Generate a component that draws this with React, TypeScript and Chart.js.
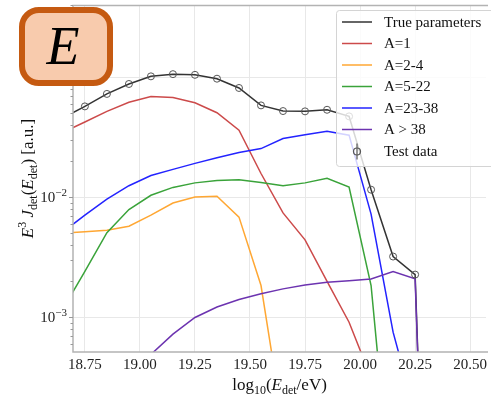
import React, { useEffect, useRef } from 'react';
import { Chart, registerables } from 'chart.js';

Chart.register(...registerables);

// ---- data ----
const energies = [18.65, 18.75, 18.85, 18.95, 19.05, 19.15, 19.25, 19.35, 19.45, 19.55, 19.65, 19.75, 19.85, 19.95, 20.05, 20.15, 20.25, 20.35];
const trueParams = [0.0458, 0.0573, 0.0728, 0.0881, 0.102, 0.1064, 0.105, 0.0975, 0.0816, 0.0584, 0.0524, 0.0521, 0.0537, 0.0473, 0.01158, 0.00321, 0.00227, 1e-8];
const a1 = [0.0348, 0.0425, 0.0521, 0.0621, 0.0692, 0.0679, 0.0614, 0.0507, 0.0363, 0.0158, 0.00742, 0.00442, 0.00199, 0.00091, 0.000313, 0.0001, 1e-6, 1e-8];
const a2to4 = [0.00504, 0.00516, 0.00531, 0.00575, 0.0071, 0.00897, 0.01005, 0.0102, 0.00684, 0.00184, 0.000128, 1e-6, 1e-7, 1e-8, 1e-8, 1e-8, 1e-8, 1e-8];
const a5to22 = [0.00117, 0.00242, 0.00507, 0.00791, 0.0104, 0.0121, 0.0132, 0.0138, 0.014, 0.0133, 0.0125, 0.0132, 0.0144, 0.0122, 0.00184, 2.1e-5, 1e-7, 1e-8];
const a23to38 = [0.00514, 0.0071, 0.00968, 0.0125, 0.0152, 0.0171, 0.0192, 0.0214, 0.0236, 0.0255, 0.0309, 0.0333, 0.0356, 0.033, 0.00724, 0.000752, 0.000158, 1e-8];
const aOver38 = [1e-7, 1e-6, 1e-5, 0.000141, 0.00049, 0.000724, 0.000996, 0.001217, 0.001409, 0.00157, 0.001726, 0.001862, 0.00196, 0.00202, 0.00209, 0.00241, 0.00209, 1e-8];
const testEnergies = [18.75, 18.85, 18.95, 19.05, 19.15, 19.25, 19.35, 19.45, 19.55, 19.65, 19.75, 19.85, 19.95, 20.05, 20.15, 20.25];
const testData = [0.0573, 0.0728, 0.0881, 0.102, 0.1064, 0.105, 0.0975, 0.0816, 0.0584, 0.0524, 0.0521, 0.0537, 0.0473, 0.01158, 0.00321, 0.00227];

const xTicks = [18.75, 19.0, 19.25, 19.5, 19.75, 20.0, 20.25, 20.5];
const yDecades = [-3, -2, -1];
const seriesLabels = ['True parameters', 'A=1', 'A=2-4', 'A=5-22', 'A=23-38', 'A > 38', 'Test data'];
const seriesColors = ['#333333', '#cc4a4a', '#ffa733', '#3aa33a', '#2323ff', '#6c33b0', '#555555'];
const X_MIN = 18.696;
const X_MAX = 20.572;
const Y_MIN = 5.137e-4;
const Y_MAX = 0.4012;

const SERIF = "'Liberation Serif', 'Times New Roman', serif";

type Part = { t: string; f: string; dy?: number };

function drawRich(ctx: CanvasRenderingContext2D, parts: Part[], cx: number, y: number, align: 'center' | 'right' = 'center') {
  let w = 0;
  for (const p of parts) { ctx.font = p.f; w += ctx.measureText(p.t).width; }
  let x = align === 'center' ? cx - w / 2 : cx - w;
  ctx.textBaseline = 'alphabetic';
  ctx.textAlign = 'left';
  for (const p of parts) {
    ctx.font = p.f;
    ctx.fillText(p.t, x, y + (p.dy || 0));
    x += ctx.measureText(p.t).width;
  }
}

const decor = {
  id: 'decor',
  beforeDatasetsDraw(chart: any) {
    const { ctx, chartArea: ca, scales } = chart;
    const y = scales.y;
    ctx.save();
    ctx.strokeStyle = '#e8e8e8';
    ctx.lineWidth = 1;
    for (const d of yDecades) {
      const py = Math.round(y.getPixelForValue(Math.pow(10, d))) + 0.5;
      ctx.beginPath();
      ctx.moveTo(ca.left, py);
      ctx.lineTo(ca.right, py);
      ctx.stroke();
    }
    ctx.restore();
  },
  afterDatasetsDraw(chart: any) {
    const { ctx, chartArea: ca, scales } = chart;
    const y = scales.y;
    ctx.save();
    // spines
    ctx.strokeStyle = '#b3b3b3';
    ctx.lineWidth = 1.5;
    ctx.beginPath();
    ctx.moveTo(ca.right + 2, ca.top + 0.5);
    ctx.lineTo(ca.left, ca.top + 0.5);
    ctx.lineTo(ca.left, ca.bottom);
    ctx.lineTo(ca.right + 2, ca.bottom);
    ctx.stroke();
    // y ticks (major + minor)
    ctx.lineWidth = 1;
    ctx.strokeStyle = '#999999';
    for (let d = -4; d <= 0; d++) {
      for (let k = 1; k <= 9; k++) {
        const v = k * Math.pow(10, d);
        if (v < Y_MIN || v > Y_MAX) continue;
        const py = Math.round(y.getPixelForValue(v)) + 0.5;
        const len = k === 1 ? 4 : 2.5;
        ctx.beginPath();
        ctx.moveTo(ca.left - len, py);
        ctx.lineTo(ca.left, py);
        ctx.stroke();
      }
    }
    // y tick labels
    ctx.fillStyle = '#222222';
    for (const d of yDecades) {
      const py = y.getPixelForValue(Math.pow(10, d));
      drawRich(ctx, [
        { t: '10', f: `15px ${SERIF}` },
        { t: '\u2212' + String(-d), f: `11px ${SERIF}`, dy: -6 },
      ], ca.left - 6, py + 5, 'right');
    }
    // axis titles
    ctx.fillStyle = '#111111';
    const reg = `17px ${SERIF}`;
    const it = `italic 17px ${SERIF}`;
    const sm = `12px ${SERIF}`;
    drawRich(ctx, [
      { t: 'log', f: reg },
      { t: '10', f: sm, dy: 4 },
      { t: '(', f: reg },
      { t: 'E', f: it },
      { t: 'det', f: sm, dy: 4 },
      { t: '/eV)', f: reg },
    ], (ca.left + ca.right) / 2, 390);
    ctx.save();
    ctx.translate(33, (ca.top + ca.bottom) / 2);
    ctx.rotate(-Math.PI / 2);
    drawRich(ctx, [
      { t: 'E', f: it },
      { t: '3', f: sm, dy: -7 },
      { t: ' ', f: reg },
      { t: 'J', f: it },
      { t: 'det', f: sm, dy: 4 },
      { t: '(', f: reg },
      { t: 'E', f: it },
      { t: 'det', f: sm, dy: 4 },
      { t: ')', f: reg },
      { t: ' [a.u.]', f: reg },
    ], 0, 0);
    ctx.restore();
    ctx.restore();
  },
  afterDraw(chart: any) {
    const { ctx } = chart;
    ctx.save();
    // legend
    ctx.beginPath();
    ctx.roundRect(336.5, 10.5, 170, 156, 3);
    ctx.fillStyle = 'rgba(255,255,255,0.8)';
    ctx.fill();
    ctx.strokeStyle = '#d4d4d4';
    ctx.lineWidth = 1;
    ctx.stroke();
    const rowY = [22, 43.5, 65, 86.5, 108, 129.5, 151.5];
    ctx.font = `15px ${SERIF}`;
    for (let i = 0; i < seriesLabels.length; i++) {
      const ry = rowY[i];
      ctx.strokeStyle = seriesColors[i];
      if (i < 6) {
        ctx.lineWidth = 1.5;
        ctx.beginPath();
        ctx.moveTo(342, ry);
        ctx.lineTo(372, ry);
        ctx.stroke();
      } else {
        ctx.lineWidth = 1.2;
        ctx.beginPath();
        ctx.moveTo(357, ry - 8);
        ctx.lineTo(357, ry + 8);
        ctx.stroke();
        ctx.beginPath();
        ctx.arc(357, ry, 3.5, 0, Math.PI * 2);
        ctx.stroke();
      }
      ctx.fillStyle = '#111111';
      ctx.textAlign = 'left';
      ctx.textBaseline = 'middle';
      ctx.font = `15px ${SERIF}`;
      ctx.fillText(seriesLabels[i], 384, ry + 1);
    }
    // badge
    ctx.beginPath();
    ctx.roundRect(22, 10, 88, 73, 17);
    ctx.fillStyle = '#f8cbad';
    ctx.fill();
    ctx.strokeStyle = '#c55a11';
    ctx.lineWidth = 6;
    ctx.stroke();
    ctx.fillStyle = '#000000';
    ctx.font = `italic 54px ${SERIF}`;
    ctx.textAlign = 'center';
    ctx.textBaseline = 'alphabetic';
    ctx.fillText('E', 63, 64);
    ctx.restore();
  },
};

function pts(xs: number[], ys: number[]) {
  return xs.map((x, i) => ({ x, y: ys[i] }));
}

export default function App() {
  const ref = useRef<HTMLCanvasElement | null>(null);
  useEffect(() => {
    document.body.style.margin = '0';
    const canvas = ref.current;
    if (!canvas) return;
    const lineSeries = [trueParams, a1, a2to4, a5to22, a23to38, aOver38];
    const orders = [6, 5, 4, 3, 2, 1];
    const datasets: any[] = lineSeries.map((s, i) => ({
      label: seriesLabels[i],
      data: pts(energies, s),
      borderColor: seriesColors[i],
      backgroundColor: seriesColors[i],
      borderWidth: 1.5,
      pointRadius: 0,
      tension: 0,
      order: orders[i],
    }));
    datasets.push({
      label: seriesLabels[6],
      data: pts(testEnergies, testData),
      showLine: false,
      pointStyle: 'circle',
      pointRadius: 3.5,
      pointBorderWidth: 1,
      borderColor: seriesColors[6],
      backgroundColor: 'rgba(0,0,0,0)',
      pointBackgroundColor: 'rgba(0,0,0,0)',
      order: 0,
    });
    const chart = new Chart(canvas, {
      type: 'line',
      data: { datasets },
      options: {
        animation: false,
        responsive: false,
        events: [],
        layout: { padding: { top: 2, right: 0, left: 0, bottom: 0 } },
        plugins: { legend: { display: false }, tooltip: { enabled: false } },
        scales: {
          x: {
            type: 'linear',
            min: X_MIN,
            max: X_MAX,
            afterBuildTicks: (s: any) => { s.ticks = xTicks.map((v) => ({ value: v })); },
            afterFit: (s: any) => { s.height = 44; s.paddingLeft = 0; s.paddingRight = 0; },
            grid: { color: '#e8e8e8', drawTicks: false, lineWidth: 1 },
            border: { display: false },
            ticks: {
              padding: 4,
              color: '#222222',
              font: { family: SERIF, size: 15 },
              maxRotation: 0,
              autoSkip: false,
              callback: (v: any) => Number(v).toFixed(2),
            },
          },
          y: {
            type: 'logarithmic',
            min: Y_MIN,
            max: Y_MAX,
            afterFit: (s: any) => { s.width = 73; s.paddingTop = 0; s.paddingBottom = 0; },
            grid: { display: false },
            border: { display: false },
            ticks: { display: false },
          },
        },
      },
      plugins: [decor],
    });
    return () => chart.destroy();
  }, []);
  return (
    <div style={{ width: 491, height: 396 }}>
      <canvas ref={ref} width={491} height={396} style={{ display: 'block' }} />
    </div>
  );
}
